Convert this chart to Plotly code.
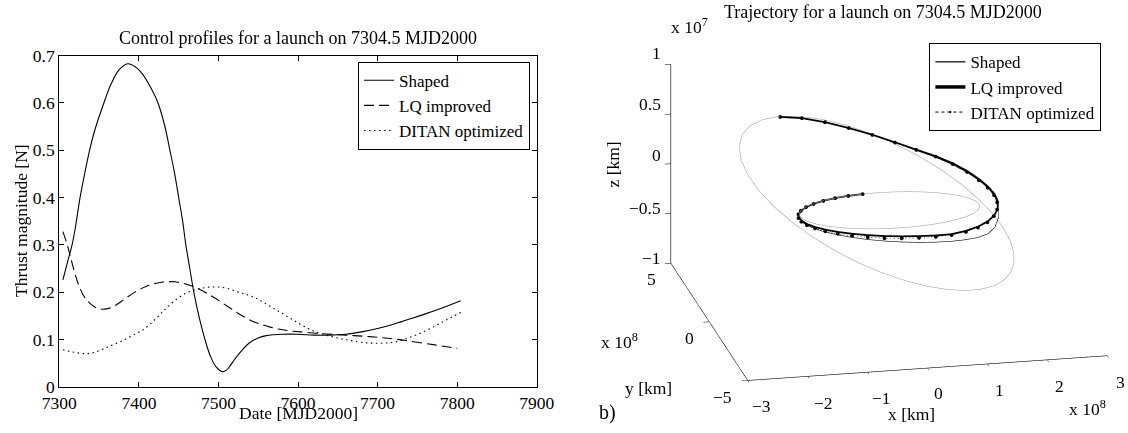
import math
import plotly.graph_objects as go

# ---------------- left panel: thrust profiles ----------------
shaped_day = [7304.5, 7310, 7316, 7320, 7326, 7330, 7338, 7345, 7356, 7365, 7375, 7386,
              7395, 7405, 7415, 7424, 7432, 7439, 7445, 7450, 7455, 7459, 7464, 7469,
              7476, 7483, 7490, 7497, 7505, 7510, 7515, 7520, 7530, 7540, 7550, 7560,
              7570, 7580, 7600, 7620, 7640, 7660, 7680, 7700, 7720, 7740, 7760, 7780, 7804.5]
shaped_thrust = [0.226, 0.262, 0.300, 0.335, 0.400, 0.435, 0.500, 0.545, 0.600, 0.640, 0.670, 0.683,
                 0.677, 0.660, 0.632, 0.600, 0.555, 0.500, 0.450, 0.400, 0.350, 0.300, 0.250, 0.200,
                 0.145, 0.100, 0.064, 0.042, 0.032, 0.035, 0.045, 0.057, 0.078, 0.094, 0.103, 0.108,
                 0.110, 0.111, 0.111, 0.109, 0.109, 0.111, 0.116, 0.123, 0.132, 0.143, 0.154, 0.166, 0.182]

lq_day = [7304.5, 7310, 7315, 7320, 7325, 7330, 7335, 7340, 7345, 7350, 7357, 7365, 7375,
          7385, 7395, 7405, 7415, 7425, 7435, 7445, 7455, 7465, 7475, 7485, 7495, 7505,
          7515, 7525, 7535, 7545, 7555, 7565, 7575, 7590, 7610, 7630, 7650, 7670, 7690,
          7710, 7730, 7750, 7770, 7785, 7800]
lq_thrust = [0.328, 0.300, 0.268, 0.237, 0.212, 0.194, 0.182, 0.174, 0.168, 0.165, 0.164, 0.167, 0.177,
             0.189, 0.200, 0.209, 0.216, 0.220, 0.222, 0.222, 0.219, 0.214, 0.207, 0.198, 0.188, 0.177,
             0.166, 0.155, 0.145, 0.137, 0.131, 0.126, 0.122, 0.118, 0.115, 0.112, 0.110, 0.108, 0.106,
             0.103, 0.099, 0.094, 0.089, 0.085, 0.081]

ditan_day = [7304.5, 7315, 7325, 7335, 7345, 7355, 7365, 7375, 7385, 7395, 7405, 7415, 7425,
             7435, 7445, 7455, 7465, 7475, 7485, 7495, 7505, 7515, 7525, 7535, 7545, 7555,
             7565, 7575, 7585, 7595, 7605, 7615, 7625, 7635, 7645, 7655, 7665, 7675, 7685,
             7695, 7705, 7715, 7725, 7735, 7745, 7755, 7765, 7775, 7785, 7795, 7804.5]
ditan_thrust = [0.078, 0.074, 0.071, 0.070, 0.073, 0.080, 0.087, 0.094, 0.102, 0.111, 0.120, 0.134, 0.150,
                0.167, 0.182, 0.194, 0.202, 0.207, 0.210, 0.211, 0.210, 0.206, 0.200, 0.195, 0.189, 0.180,
                0.170, 0.160, 0.150, 0.140, 0.130, 0.121, 0.114, 0.109, 0.105, 0.101, 0.098, 0.095, 0.093,
                0.092, 0.092, 0.093, 0.096, 0.101, 0.107, 0.114, 0.122, 0.131, 0.140, 0.149, 0.157]

# ---------------- right panel: orbits (polar form) ----------------
# heliocentric longitude [deg], radius [1e8 km], height z [1e7 km]
orbit_lon = [0, 10, 20, 30, 40, 50, 60, 70, 80, 90, 100, 110, 120, 130, 140, 150, 160, 170, 180,
             190, 200, 210, 220, 230, 240, 250, 260, 270, 280, 290, 300, 310, 320, 330, 340, 350, 360]
earth_r = [1.502, 1.497, 1.493, 1.489, 1.485, 1.481, 1.478, 1.475, 1.473, 1.472, 1.471, 1.471, 1.472,
           1.474, 1.476, 1.479, 1.482, 1.486, 1.490, 1.495, 1.499, 1.503, 1.507, 1.511, 1.514, 1.517,
           1.519, 1.520, 1.521, 1.521, 1.520, 1.518, 1.516, 1.513, 1.510, 1.506, 1.502]
earth_z = [0.0, 0.0, 0.0, 0.0, 0.0, 0.0, 0.0, 0.0, 0.0, 0.0, 0.0, 0.0, 0.0, 0.0, 0.0, 0.0, 0.0, 0.0, 0.0,
           0.0, 0.0, 0.0, 0.0, 0.0, 0.0, 0.0, 0.0, 0.0, 0.0, 0.0, 0.0, 0.0, 0.0, 0.0, 0.0, 0.0, 0.0]
mars_r = [2.0815, 2.0967, 2.1169, 2.1415, 2.1702, 2.2024, 2.2373, 2.2739, 2.3113, 2.3483, 2.3836, 2.4158,
          2.4438, 2.4661, 2.4820, 2.4905, 2.4912, 2.4842, 2.4698, 2.4487, 2.4218, 2.3903, 2.3556, 2.3188,
          2.2814, 2.2445, 2.2092, 2.1764, 2.1470, 2.1214, 2.1004, 2.0841, 2.0730, 2.0671, 2.0665, 2.0714, 2.0815]
mars_z = [-0.512, -0.431, -0.338, -0.232, -0.117, 0.005, 0.130, 0.256, 0.378, 0.491, 0.593, 0.678, 0.743,
          0.785, 0.801, 0.791, 0.754, 0.692, 0.607, 0.504, 0.386, 0.259, 0.127, -0.005, -0.133, -0.253,
          -0.361, -0.455, -0.534, -0.595, -0.639, -0.663, -0.669, -0.656, -0.625, -0.577, -0.512]

# transfer trajectories
traj_lon = [100, 110, 120, 130, 140, 150, 160, 170, 180, 190, 200, 210, 220, 230, 240, 250, 260, 270,
            280, 290, 300, 310, 320, 330, 340, 350, 360, 370, 380, 390, 400, 410, 420, 430, 440, 450,
            460, 470, 480, 490]
lq_r = [1.471, 1.472, 1.474, 1.477, 1.480, 1.484, 1.489, 1.495, 1.502, 1.511, 1.521, 1.533, 1.547, 1.563,
        1.580, 1.600, 1.621, 1.643, 1.665, 1.687, 1.709, 1.730, 1.750, 1.769, 1.786, 1.802, 1.818, 1.834,
        1.852, 1.880, 1.915, 1.958, 2.005, 2.058, 2.115, 2.178, 2.243, 2.310, 2.380, 2.450]
lq_z = [0.000, 0.000, 0.000, -0.001, -0.002, -0.004, -0.006, -0.009, -0.013, -0.017, -0.022, -0.027,
        -0.032, -0.038, -0.045, -0.053, -0.062, -0.071, -0.081, -0.093, -0.104, -0.100, -0.090, -0.075,
        -0.052, -0.024, 0.008, 0.045, 0.085, 0.130, 0.185, 0.240, 0.295, 0.350, 0.420, 0.500, 0.580,
        0.660, 0.730, 0.780]
shaped_r = [1.471, 1.472, 1.474, 1.477, 1.480, 1.484, 1.489, 1.495, 1.502, 1.511, 1.521, 1.533, 1.547,
            1.563, 1.580, 1.600, 1.621, 1.643, 1.666, 1.689, 1.712, 1.735, 1.757, 1.778, 1.797, 1.813,
            1.826, 1.838, 1.853, 1.876, 1.908, 1.950, 1.998, 2.052, 2.110, 2.175, 2.241, 2.309, 2.379, 2.450]
shaped_z = [0.000, 0.000, 0.000, -0.001, -0.003, -0.006, -0.010, -0.015, -0.021, -0.028, -0.036, -0.045,
            -0.056, -0.068, -0.082, -0.097, -0.112, -0.128, -0.144, -0.160, -0.175, -0.188, -0.197, -0.198,
            -0.172, -0.115, -0.045, 0.020, 0.070, 0.120, 0.172, 0.228, 0.285, 0.343, 0.415, 0.497, 0.578,
            0.659, 0.729, 0.780]
ditan_r = [1.471, 1.473, 1.476, 1.480, 1.485, 1.490, 1.496, 1.503, 1.511, 1.520, 1.530, 1.542, 1.556,
           1.571, 1.588, 1.606, 1.626, 1.647, 1.668, 1.690, 1.711, 1.731, 1.749, 1.765, 1.779, 1.792,
           1.805, 1.820, 1.840, 1.868, 1.905, 1.950, 2.000, 2.055, 2.113, 2.177, 2.243, 2.310, 2.380, 2.450]
ditan_z = [0.000, 0.000, -0.001, -0.002, -0.004, -0.006, -0.009, -0.013, -0.018, -0.024, -0.031, -0.038,
           -0.046, -0.055, -0.064, -0.073, -0.082, -0.090, -0.098, -0.106, -0.112, -0.110, -0.100, -0.082,
           -0.058, -0.030, 0.002, 0.038, 0.078, 0.123, 0.178, 0.235, 0.292, 0.348, 0.418, 0.499, 0.580,
           0.660, 0.730, 0.780]

x_ticks = [-3, -2, -1, 0, 1, 2, 3]
y_ticks = [-5, 0, 5]
z_ticks = [-1, -0.5, 0, 0.5, 1]


def to_xyz(lon, r, z):
    xs = [ri * 1e8 * math.cos(math.radians(l)) for l, ri in zip(lon, r)]
    ys = [ri * 1e8 * math.sin(math.radians(l)) for l, ri in zip(lon, r)]
    zs = [zi * 1e7 for zi in z]
    return xs, ys, zs


def lbl(v):
    return ("%g" % v).replace("-", "\u2212")


FONT = "Liberation Serif"
fig = go.Figure()

# left panel traces
fig.add_trace(go.Scatter(x=shaped_day, y=shaped_thrust, mode="lines", name="Shaped",
                         line=dict(color="black", width=1.1, shape="spline")))
fig.add_trace(go.Scatter(x=lq_day, y=lq_thrust, mode="lines", name="LQ improved",
                         line=dict(color="black", width=1.1, dash="10px,5px", shape="spline")))
fig.add_trace(go.Scatter(x=ditan_day, y=ditan_thrust, mode="lines", name="DITAN optimized",
                         line=dict(color="black", width=1.1, dash="1.5px,3.5px", shape="spline")))

# right panel traces
for r_, z_ in [(earth_r, earth_z), (mars_r, mars_z)]:
    xs, ys, zs = to_xyz(orbit_lon, r_, z_)
    fig.add_trace(go.Scatter3d(x=xs, y=ys, z=zs, mode="lines", showlegend=False, hoverinfo="skip",
                               line=dict(color="#a6a6a6", width=1.2), scene="scene"))
xs, ys, zs = to_xyz(traj_lon, shaped_r, shaped_z)
fig.add_trace(go.Scatter3d(x=xs, y=ys, z=zs, mode="lines", name="Shaped", legend="legend2",
                           line=dict(color="black", width=1.2), scene="scene"))
xs, ys, zs = to_xyz(traj_lon, lq_r, lq_z)
fig.add_trace(go.Scatter3d(x=xs, y=ys, z=zs, mode="lines", name="LQ improved", legend="legend2",
                           line=dict(color="black", width=3.5), scene="scene"))
xs, ys, zs = to_xyz(traj_lon, ditan_r, ditan_z)
fig.add_trace(go.Scatter3d(x=xs, y=ys, z=zs, mode="lines+markers", name="DITAN optimized",
                           legend="legend2", marker=dict(color="black", size=2.2),
                           line=dict(color="black", width=1, dash="dot"), scene="scene"))

axis2d = dict(showline=True, linecolor="black", linewidth=1.2, mirror="ticks", ticks="inside",
              ticklen=5, tickcolor="black", showgrid=False, zeroline=False, automargin=False,
              tickfont=dict(family=FONT, size=17.5, color="black"))

axis3d = dict(showgrid=False, zeroline=False, showbackground=False, showline=True,
              linecolor="black", linewidth=1.2, ticks="outside", ticklen=6, tickcolor="black",
              tickwidth=1, showspikes=False, autorange=False, showticklabels=False,
              title=dict(text=""))

box_scale = 1.75
eye_dir = (-0.1967, -0.9253, 0.324)
eye_len = 1.6

fig.update_layout(
    width=1128, height=433, margin=dict(l=0, r=0, t=0, b=0, autoexpand=False),
    paper_bgcolor="white", plot_bgcolor="white",
    font=dict(family=FONT, size=17, color="black"),
    xaxis=dict(domain=[0.0526, 0.4758], range=[7300, 7900], tickvals=[7300, 7400, 7500, 7600, 7700, 7800, 7900],
               **axis2d),
    yaxis=dict(domain=[0.1069, 0.8714], range=[0, 0.7], tickvals=[0, 0.1, 0.2, 0.3, 0.4, 0.5, 0.6, 0.7],
               ticktext=["0", "0.1", "0.2", "0.3", "0.4", "0.5", "0.6", "0.7"], **axis2d),
    legend=dict(x=0.4699, xanchor="right", y=0.8575, yanchor="top", bordercolor="black", borderwidth=1,
                bgcolor="white", font=dict(family=FONT, size=17), tracegroupgap=0),
    legend2=dict(x=0.9764, xanchor="right", y=0.9, yanchor="top", bordercolor="black", borderwidth=1,
                 bgcolor="white", font=dict(family=FONT, size=17)),
    scene=dict(
        domain=dict(x=[0.585, 0.9912], y=[0.03, 1.0]),
        aspectmode="manual",
        aspectratio=dict(x=1.0 * box_scale, y=1.007 * box_scale, z=0.572 * box_scale),
        camera=dict(eye=dict(x=eye_len * eye_dir[0], y=eye_len * eye_dir[1], z=eye_len * eye_dir[2]),
                    up=dict(x=0, y=0, z=1), center=dict(x=0, y=0, z=0),
                    projection=dict(type="orthographic")),
        xaxis=dict(range=[-3e8, 3e8], tickvals=[t * 1e8 for t in x_ticks], **axis3d),
        yaxis=dict(range=[-5e8, 5e8], tickvals=[t * 1e8 for t in y_ticks], **axis3d),
        zaxis=dict(range=[-1e7, 1e7], tickvals=[t * 1e7 for t in z_ticks], **axis3d),
        bgcolor="white",
    ),
)


def text(t, px, py, size=17.5, xanchor="center", angle=0):
    fig.add_annotation(text=t, x=px / 1128, y=1 - py / 433, xanchor=xanchor, yanchor="middle",
                       textangle=angle, showarrow=False, xref="paper", yref="paper",
                       font=dict(family=FONT, size=size, color="black"))


text("Control profiles for a launch on 7304.5 MJD2000", 298, 38, size=18)
text("Trajectory for a launch on 7304.5 MJD2000", 883, 11.5, size=18)
text("Date [MJD2000]", 298, 413)
text("Thrust magnitude [N]", 21, 221, angle=-90)

# 3-D axis labels (tick labels placed beside the projected ticks)
for t, px, py in zip(z_ticks, [663] * 5, [258, 208, 155, 104, 53]):
    text(lbl(t), px, py, xanchor="right")
for t, px, py in zip(y_ticks, [722, 689, 651], [397, 338, 279]):
    text(lbl(t), px, py)
for t, px, py in zip(x_ticks, [762, 823, 881, 938, 999, 1059.5, 1120], [406, 403, 398, 393, 389.5, 385.5, 381.5]):
    text(lbl(t), px, py)
text("x [km]", 912, 414)
text("y [km]", 648, 388)
text("z [km]", 612.5, 165, angle=-90)
text("x 10<sup>7</sup>", 689, 26)
text("x 10<sup>8</sup>", 619, 341)
text("x 10<sup>8</sup>", 1087, 408)
text("b)", 607, 412, size=20)

fig.write_html("out.html", config={"displayModeBar": False},
               post_script="document.body.style.margin='0px';document.body.style.overflow='hidden';")
